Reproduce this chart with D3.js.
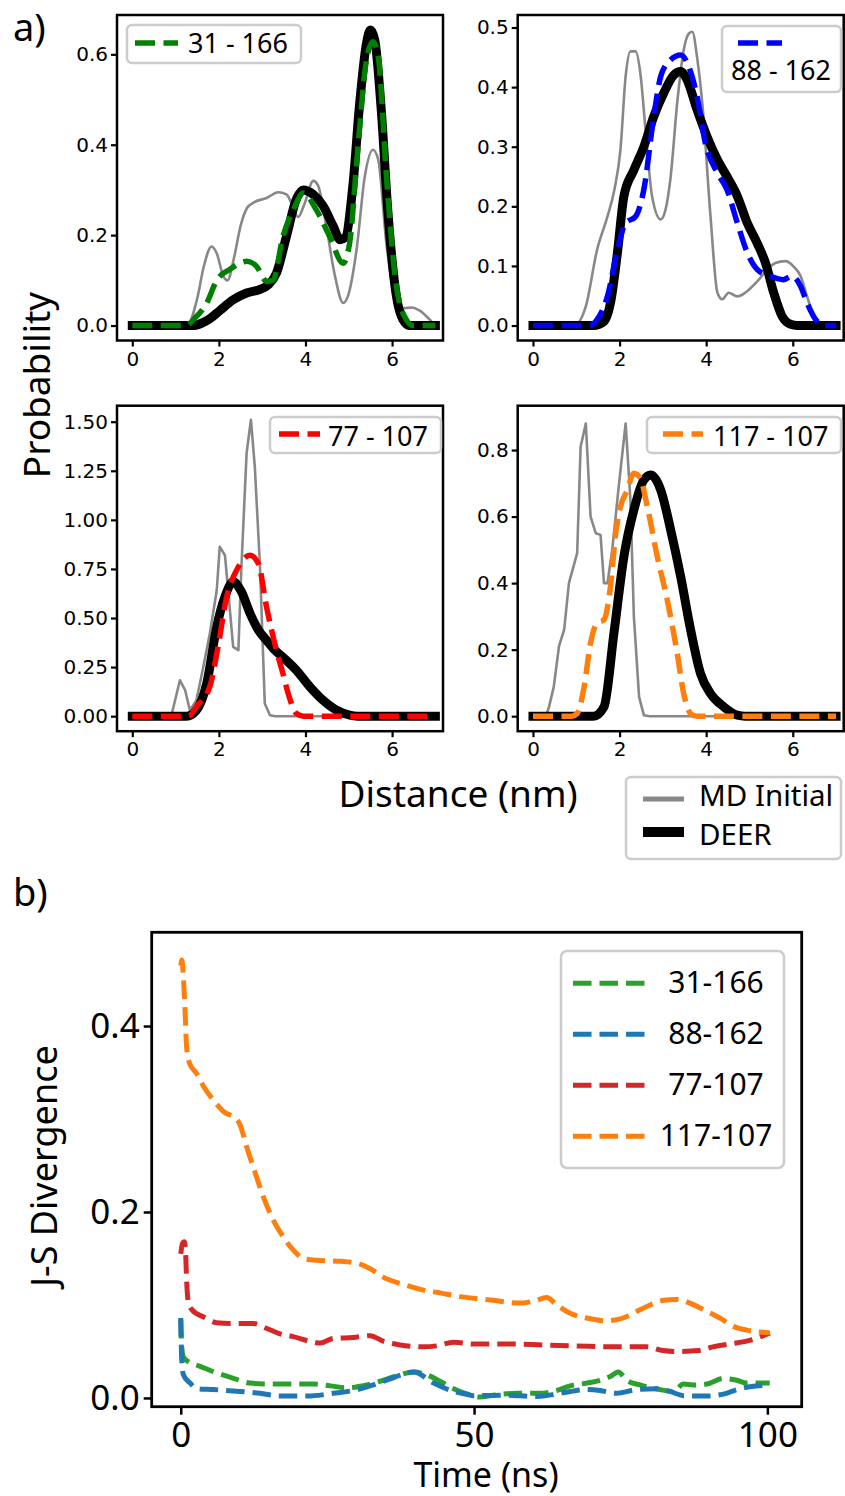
<!DOCTYPE html>
<html>
<head>
<meta charset="utf-8">
<script src="https://cdn.jsdelivr.net/npm/d3@7"></script>
<style>
  body { margin: 0; background: #fff; }
  svg { display: block; }
</style>
</head>
<body>
<script>
// ---- panel a: distance distributions, [distance nm, probability] ----
const md31_166 = [[0,0],[1.0,0],[1.3,0.005],[1.5,0.06],[1.65,0.13],[1.83,0.175],[1.95,0.16],[2.1,0.11],[2.2,0.10],[2.35,0.15],[2.5,0.22],[2.65,0.26],[2.8,0.272],[3.1,0.282],[3.37,0.295],[3.56,0.29],[3.68,0.27],[3.83,0.24],[3.98,0.27],[4.18,0.32],[4.29,0.31],[4.48,0.22],[4.68,0.11],[4.87,0.05],[4.98,0.065],[5.18,0.168],[5.37,0.33],[5.56,0.389],[5.68,0.367],[5.87,0.18],[6.1,0.05],[6.25,0.038],[6.45,0.04],[6.64,0.033],[6.87,0.013],[7.0,0]];
const deer31_166 = [[0,0],[1.4,0],[1.6,0.005],[1.79,0.015],[2.02,0.033],[2.33,0.057],[2.64,0.072],[2.95,0.08],[3.14,0.09],[3.33,0.116],[3.56,0.197],[3.79,0.28],[3.95,0.30],[4.18,0.29],[4.41,0.264],[4.64,0.22],[4.8,0.19],[4.92,0.195],[5.1,0.315],[5.25,0.49],[5.41,0.625],[5.5,0.654],[5.6,0.632],[5.75,0.477],[5.9,0.256],[6.1,0.065],[6.25,0.013],[6.4,0],[7.0,0]];
const fit31_166 = [[0,0],[1.25,0],[1.41,0.013],[1.72,0.05],[1.95,0.10],[2.25,0.124],[2.64,0.142],[2.87,0.131],[3.1,0.098],[3.25,0.10],[3.48,0.197],[3.72,0.256],[3.95,0.293],[4.25,0.256],[4.56,0.197],[4.87,0.138],[5.02,0.183],[5.22,0.404],[5.41,0.588],[5.56,0.628],[5.68,0.595],[5.87,0.33],[6.1,0.087],[6.33,0.013],[6.48,0],[7.0,0]];

const md88_162 = [[0,0],[0.95,0],[1.22,0.032],[1.48,0.127],[1.72,0.183],[1.88,0.228],[2.02,0.295],[2.14,0.418],[2.25,0.46],[2.37,0.46],[2.48,0.423],[2.6,0.328],[2.75,0.217],[2.95,0.178],[3.06,0.194],[3.18,0.25],[3.33,0.373],[3.48,0.462],[3.6,0.49],[3.68,0.493],[3.79,0.45],[3.91,0.373],[4.1,0.183],[4.26,0.055],[4.37,0.044],[4.52,0.055],[4.72,0.049],[4.9,0.055],[5.18,0.074],[5.41,0.094],[5.6,0.105],[5.83,0.108],[6.02,0.099],[6.18,0.083],[6.33,0.049],[6.48,0.016],[6.64,0],[7.0,0]];
const deer88_162 = [[0,0],[1.4,0],[1.64,0.007],[1.79,0.038],[1.95,0.122],[2.1,0.217],[2.33,0.261],[2.56,0.30],[2.79,0.351],[3.02,0.39],[3.25,0.42],[3.41,0.426],[3.56,0.412],[3.79,0.362],[4.02,0.317],[4.26,0.278],[4.48,0.25],[4.72,0.217],[4.95,0.172],[5.18,0.138],[5.37,0.105],[5.56,0.055],[5.75,0.016],[5.95,0.002],[6.1,0],[7.0,0]];
const fit88_162 = [[0,0],[1.3,0],[1.48,0.01],[1.72,0.049],[1.95,0.127],[2.14,0.172],[2.37,0.183],[2.56,0.228],[2.79,0.351],[2.95,0.418],[3.18,0.446],[3.41,0.454],[3.6,0.434],[3.79,0.384],[3.98,0.306],[4.26,0.256],[4.48,0.228],[4.72,0.172],[4.95,0.122],[5.18,0.094],[5.48,0.083],[5.78,0.077],[5.98,0.083],[6.18,0.066],[6.33,0.038],[6.56,0.007],[6.7,0],[7.0,0]];

const md77_107 = [[0,0],[0.9,0],[1.1,0.183],[1.22,0.133],[1.33,0.03],[1.48,0.08],[1.64,0.25],[1.79,0.42],[1.95,0.64],[2.02,0.863],[2.14,0.82],[2.22,0.625],[2.33,0.353],[2.45,0.336],[2.52,0.76],[2.64,1.34],[2.74,1.51],[2.83,1.27],[2.95,0.76],[3.06,0.065],[3.18,0.005],[3.3,0],[7.0,0]];
const deer77_107 = [[0,0],[1.25,0],[1.48,0.03],[1.72,0.167],[1.95,0.455],[2.14,0.608],[2.33,0.685],[2.52,0.634],[2.72,0.523],[2.91,0.44],[3.1,0.387],[3.3,0.335],[3.48,0.30],[3.79,0.234],[4.1,0.15],[4.41,0.08],[4.72,0.03],[5.02,0.005],[5.2,0],[7.0,0]];
const fit77_107 = [[0,0],[1.3,0],[1.48,0.048],[1.79,0.15],[1.98,0.353],[2.18,0.608],[2.41,0.744],[2.72,0.82],[2.91,0.778],[3.1,0.557],[3.33,0.336],[3.48,0.217],[3.6,0.116],[3.79,0.014],[3.95,0],[7.0,0]];

const md117_107 = [[0,0],[0.3,0],[0.37,0.028],[0.48,0.088],[0.6,0.21],[0.72,0.26],[0.83,0.40],[1.02,0.49],[1.1,0.81],[1.22,0.88],[1.33,0.60],[1.45,0.55],[1.56,0.545],[1.64,0.40],[1.72,0.40],[1.83,0.50],[1.98,0.69],[2.14,0.88],[2.25,0.65],[2.33,0.30],[2.45,0.058],[2.56,0.003],[2.7,0],[7.0,0]];
const deer117_107 = [[0,0],[1.4,0],[1.64,0.028],[1.87,0.25],[2.1,0.48],[2.33,0.62],[2.56,0.71],[2.72,0.725],[2.95,0.68],[3.18,0.56],[3.41,0.42],[3.64,0.26],[3.87,0.128],[4.1,0.068],[4.41,0.028],[4.72,0.003],[4.9,0],[7.0,0]];
const fit117_107 = [[0,0],[0.9,0],[1.02,0.008],[1.18,0.088],[1.33,0.22],[1.48,0.28],[1.64,0.29],[1.79,0.39],[1.91,0.55],[2.02,0.63],[2.18,0.68],[2.33,0.73],[2.48,0.715],[2.64,0.63],[2.87,0.48],[3.1,0.35],[3.33,0.19],[3.48,0.068],[3.64,0.008],[3.79,0],[7.0,0]];

const distTicks = [0, 2, 4, 6];
const probTicks1 = [0, 0.2, 0.4, 0.6];
const probTicks2 = [0, 0.1, 0.2, 0.3, 0.4, 0.5];
const probTicks3 = [0, 0.25, 0.5, 0.75, 1.0, 1.25, 1.5];
const probTicks4 = [0, 0.2, 0.4, 0.6, 0.8];

// ---- panel b: J-S divergence over time, [time ns, divergence] ----
const pairNames = ['31-166', '88-162', '77-107', '117-107'];
const js31_166 = [[0,0.084],[0.17,0.055],[0.45,0.044],[1.3,0.039],[3.3,0.034],[6.1,0.027],[9,0.021],[11.8,0.016],[14.7,0.015],[18.6,0.015],[22.6,0.015],[25.5,0.013],[28.3,0.011],[31.7,0.014],[34.5,0.019],[37.4,0.025],[39.7,0.028],[41.9,0.025],[44.2,0.018],[46.5,0.010],[48.5,0.005],[51,0.001],[53.3,0.003],[57.3,0.005],[61.2,0.005],[63.5,0.007],[66.4,0.013],[69.2,0.016],[71.5,0.019],[73.2,0.023],[74.6,0.028],[76,0.019],[78.3,0.014],[81.7,0.009],[84,0.007],[85.7,0.015],[87.4,0.014],[89.7,0.015],[92.5,0.021],[94.8,0.019],[96.5,0.016],[100.4,0.016]];
const js88_162 = [[0,0.086],[0.17,0.041],[0.45,0.025],[1.6,0.016],[2.7,0.010],[5.6,0.009],[10.1,0.007],[13.5,0.005],[16.9,0.002],[21.5,0.002],[26,0.005],[29.4,0.008],[32.8,0.014],[36.3,0.022],[39.7,0.028],[43.1,0.016],[46.5,0.007],[48.75,0.004],[49.9,0.0025],[55,0.003],[60.7,0.0015],[64.7,0.005],[69.2,0.009],[71.5,0.008],[74.3,0.005],[77.7,0.009],[81.1,0.010],[83.4,0.007],[85.7,0.0025],[89.7,0.002],[93,0.005],[94.8,0.009],[97,0.012],[100.4,0.014]];
const js77_107 = [[0,0.155],[0.3,0.166],[0.6,0.168],[0.8,0.16],[1.0,0.127],[1.3,0.102],[1.9,0.095],[3.9,0.087],[6.1,0.081],[9.0,0.080],[12.4,0.080],[14.6,0.075],[16.9,0.069],[19.2,0.066],[22,0.061],[23.75,0.059],[26,0.064],[29.4,0.065],[32.3,0.067],[34.5,0.061],[37.4,0.057],[41.4,0.055],[43.6,0.056],[46.5,0.06],[49.9,0.058],[56.1,0.058],[61.8,0.057],[67.5,0.056],[73.6,0.055],[79.4,0.055],[82.2,0.051],[84.4,0.05],[88.4,0.051],[90.7,0.055],[93.6,0.058],[97.6,0.063],[100.4,0.070]];
const js117_107 = [[0,0.465],[0.2,0.471],[0.45,0.453],[0.75,0.414],[1.0,0.378],[1.5,0.36],[2.7,0.349],[3.9,0.335],[5.6,0.32],[7.3,0.308],[9.5,0.30],[10.1,0.294],[11.25,0.27],[12.7,0.242],[14.1,0.216],[15.8,0.191],[17.5,0.173],[19.2,0.159],[20.9,0.150],[23.2,0.148],[27.2,0.147],[30,0.145],[32.3,0.139],[34.5,0.13],[38,0.122],[41.4,0.116],[44.2,0.113],[47.6,0.109],[53.3,0.105],[57.8,0.102],[60.1,0.104],[62.4,0.108],[64.1,0.10],[66.4,0.091],[69.2,0.086],[72.6,0.083],[75.4,0.086],[77.7,0.093],[80,0.10],[82.3,0.105],[84.5,0.106],[86.8,0.102],[89.1,0.095],[91.9,0.086],[94.2,0.077],[96.5,0.073],[98.7,0.071],[100.4,0.070]];
const timeTicks = [0, 50, 100];
const jsTicks = [0, 0.2, 0.4];

// ---------------------------------------------------------------
const W = 845, H = 1496;
const sans = "'Noto Sans', 'Open Sans', sans-serif";
const tickFont = "'DejaVu Sans', sans-serif";

const svg = d3.select('body').append('svg')
  .attr('width', W).attr('height', H)
  .attr('font-family', sans);

// panel layout (positions only, values come from the arrays above)
const panels = [
  { name: '31 - 166', color: 'green', md: md31_166, deer: deer31_166, fit: fit31_166,
    left: 117, top: 15, yDom: [-0.0331, 0.687], ticks: probTicks1, fmt: '.1f', mdCurve: d3.curveMonotoneX,
    leg: { box: [127, 25, 301, 63], line: [135, 178, 43], text: [188, 53] } },
  { name: '88 - 162', color: 'blue', md: md88_162, deer: deer88_162, fit: fit88_162,
    left: 517.7, top: 15, yDom: [-0.0251, 0.521], ticks: probTicks2, fmt: '.1f', mdCurve: d3.curveMonotoneX,
    leg: { box: [722, 26, 841, 92], line: [738, 782, 43], text: [731, 80] } },
  { name: '77 - 107', color: 'red', md: md77_107, deer: deer77_107, fit: fit77_107,
    left: 117, top: 405.7, yDom: [-0.0765, 1.5815], ticks: probTicks3, fmt: '.2f', mdCurve: d3.curveLinear,
    leg: { box: [270, 417, 441, 453], line: [279, 320, 434], text: [328, 446] } },
  { name: '117 - 107', color: '#ff7f0e', md: md117_107, deer: deer117_107, fit: fit117_107,
    left: 517.7, top: 405.7, yDom: [-0.0451, 0.9333], ticks: probTicks4, fmt: '.1f', mdCurve: d3.curveLinear,
    leg: { box: [647, 417, 841, 453], line: [663, 703, 434], text: [713, 446] } }
];
const pw = 326, ph = 325.5;

panels.forEach((p, i) => {
  const x = d3.scaleLinear().domain([-0.353, 7.176]).range([p.left, p.left + pw]);
  const y = d3.scaleLinear().domain(p.yDom).range([p.top + ph, p.top]);
  const g = svg.append('g');

  g.append('clipPath').attr('id', 'clip' + i)
    .append('rect').attr('x', p.left).attr('y', p.top).attr('width', pw).attr('height', ph);

  const xAxis = g.append('g')
    .attr('transform', `translate(0,${p.top + ph})`)
    .call(d3.axisBottom(x).tickValues(distTicks).tickFormat(d3.format('d')).tickSize(6).tickPadding(5));
  const yAxis = g.append('g')
    .attr('transform', `translate(${p.left},0)`)
    .call(d3.axisLeft(y).tickValues(p.ticks).tickFormat(d3.format(p.fmt)).tickSize(6).tickPadding(3));
  [xAxis, yAxis].forEach(a => {
    a.select('.domain').remove();
    a.selectAll('line').attr('stroke', '#000').attr('stroke-width', 2.2);
    a.selectAll('text').attr('font-family', tickFont).attr('font-size', 20).attr('fill', '#000');
  });

  const lines = g.append('g').attr('clip-path', `url(#clip${i})`);
  const line = c => d3.line().x(d => x(d[0])).y(d => y(d[1])).curve(c);

  lines.append('path').datum(p.md)
    .attr('d', line(p.mdCurve))
    .attr('fill', 'none').attr('stroke', '#888').attr('stroke-width', 2.6)
    .attr('stroke-linejoin', 'round');
  lines.append('path').datum(p.deer)
    .attr('d', line(d3.curveMonotoneX))
    .attr('fill', 'none').attr('stroke', '#000').attr('stroke-width', 9)
    .attr('stroke-linejoin', 'round').attr('stroke-linecap', 'square');
  lines.append('path').datum(p.fit)
    .attr('d', line(d3.curveMonotoneX))
    .attr('fill', 'none').attr('stroke', p.color).attr('stroke-width', 5.5)
    .attr('stroke-dasharray', '20,8.5');

  g.append('rect')
    .attr('x', p.left).attr('y', p.top).attr('width', pw).attr('height', ph)
    .attr('fill', 'none').attr('stroke', '#000').attr('stroke-width', 2.5);

  // per-panel legend
  const L = p.leg;
  g.append('rect')
    .attr('x', L.box[0]).attr('y', L.box[1])
    .attr('width', L.box[2] - L.box[0]).attr('height', L.box[3] - L.box[1])
    .attr('rx', 5).attr('fill', '#fff').attr('fill-opacity', 0.8)
    .attr('stroke', '#ccc').attr('stroke-width', 2.5);
  g.append('line')
    .attr('x1', L.line[0]).attr('x2', L.line[1]).attr('y1', L.line[2]).attr('y2', L.line[2])
    .attr('stroke', p.color).attr('stroke-width', 5.5).attr('stroke-dasharray', '20,8.5');
  g.append('text')
    .attr('x', L.text[0]).attr('y', L.text[1])
    .attr('font-size', 27).attr('fill', '#000')
    .text(p.name);
});

// shared legend for panel a
const shared = svg.append('g');
shared.append('rect')
  .attr('x', 626).attr('y', 777).attr('width', 215).attr('height', 82)
  .attr('rx', 5).attr('fill', '#fff').attr('stroke', '#ccc').attr('stroke-width', 2.5);
shared.append('line').attr('x1', 643).attr('x2', 684).attr('y1', 799).attr('y2', 799)
  .attr('stroke', '#888').attr('stroke-width', 5);
shared.append('line').attr('x1', 643).attr('x2', 684).attr('y1', 832).attr('y2', 832)
  .attr('stroke', '#000').attr('stroke-width', 10);
shared.append('text').attr('x', 699).attr('y', 806).attr('font-size', 29.5).text('MD Initial');
shared.append('text').attr('x', 699).attr('y', 845).attr('font-size', 29.5).text('DEER');

// panel a labels
svg.append('text').attr('x', 13).attr('y', 41).attr('font-size', 38).text('a)');
svg.append('text')
  .attr('transform', 'translate(50,385) rotate(-90)')
  .attr('text-anchor', 'middle').attr('font-size', 37).text('Probability');
svg.append('text')
  .attr('x', 458).attr('y', 807).attr('text-anchor', 'middle')
  .attr('font-size', 37).text('Distance (nm)');

// ---- panel b ----
const bx = d3.scaleLinear().domain([-4.95, 105.85]).range([151.7, 801.7]);
const by = d3.scaleLinear().domain([-0.0094, 0.5008]).range([1406.7, 932.3]);
const bColors = ['#2ca02c', '#1f77b4', '#d62728', '#ff7f0e'];
const bSeries = [js31_166, js88_162, js77_107, js117_107];

const gb = svg.append('g');
gb.append('clipPath').attr('id', 'clipb')
  .append('rect').attr('x', 151.7).attr('y', 932.3).attr('width', 650).attr('height', 474.4);

const bxAxis = gb.append('g')
  .attr('transform', 'translate(0,1406.7)')
  .call(d3.axisBottom(bx).tickValues(timeTicks).tickSize(8).tickPadding(7));
const byAxis = gb.append('g')
  .attr('transform', 'translate(151.7,0)')
  .call(d3.axisLeft(by).tickValues(jsTicks).tickFormat(d3.format('.1f')).tickSize(8).tickPadding(4));
[bxAxis, byAxis].forEach(a => {
  a.select('.domain').remove();
  a.selectAll('line').attr('stroke', '#000').attr('stroke-width', 2.5);
  a.selectAll('text').attr('font-family', sans).attr('font-size', 35).attr('fill', '#000');
});

const bLine = d3.line().x(d => bx(d[0])).y(d => by(d[1])).curve(d3.curveMonotoneX);
gb.append('g').attr('clip-path', 'url(#clipb)')
  .selectAll('path')
  .data(bSeries)
  .join('path')
  .attr('d', bLine)
  .attr('fill', 'none')
  .attr('stroke', (d, i) => bColors[i])
  .attr('stroke-width', 5)
  .attr('stroke-dasharray', '18.5,8');

gb.append('rect')
  .attr('x', 151.7).attr('y', 932.3).attr('width', 650).attr('height', 474.4)
  .attr('fill', 'none').attr('stroke', '#000').attr('stroke-width', 2.8);

// panel b legend
const lg = gb.append('g');
lg.append('rect')
  .attr('x', 561).attr('y', 951).attr('width', 223).attr('height', 217)
  .attr('rx', 6).attr('fill', '#fff').attr('fill-opacity', 0.8)
  .attr('stroke', '#ccc').attr('stroke-width', 2.5);
const items = lg.selectAll('g.item').data(pairNames).join('g')
  .attr('class', 'item')
  .attr('transform', (d, i) => `translate(0,${983.3 + i * 51})`);
items.append('line')
  .attr('x1', 573).attr('x2', 647.5).attr('y1', 0).attr('y2', 0)
  .attr('stroke', (d, i) => bColors[i]).attr('stroke-width', 5)
  .attr('stroke-dasharray', '18.5,8');
items.append('text')
  .attr('x', 716).attr('y', 9.5).attr('text-anchor', 'middle')
  .attr('font-size', 30).text(d => d);

// panel b labels
svg.append('text').attr('x', 13).attr('y', 906).attr('font-size', 38).text('b)');
svg.append('text')
  .attr('transform', 'translate(57,1166) rotate(-90)')
  .attr('text-anchor', 'middle').attr('font-size', 36).text('J-S Divergence');
svg.append('text')
  .attr('x', 486).attr('y', 1487).attr('text-anchor', 'middle')
  .attr('font-size', 34).text('Time (ns)');
</script>
</body>
</html>
